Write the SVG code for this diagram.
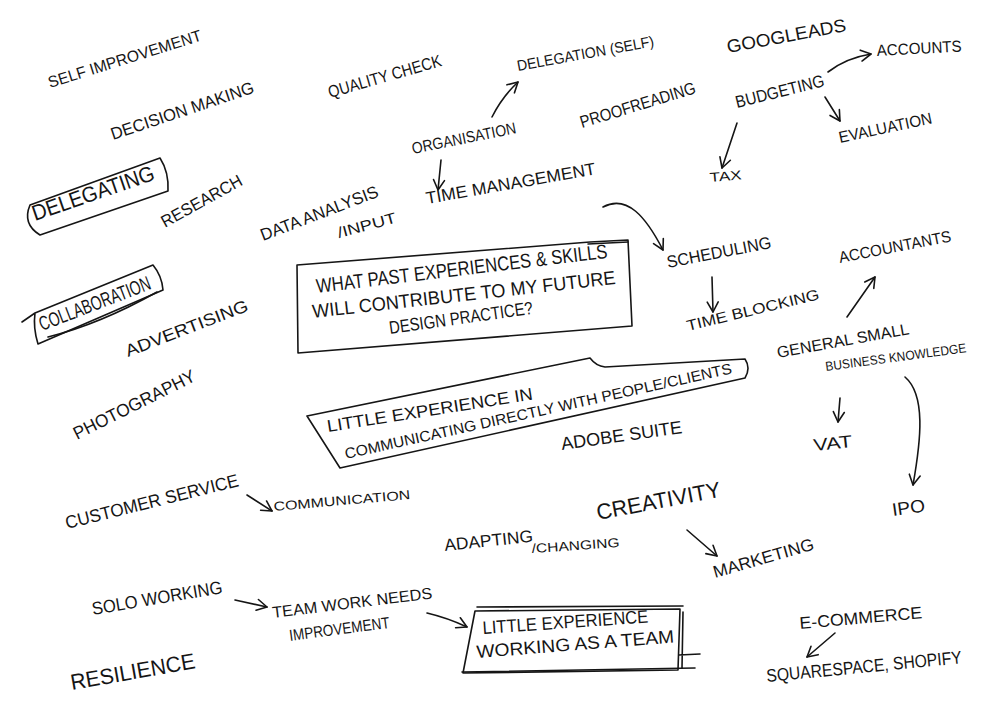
<svg xmlns="http://www.w3.org/2000/svg" width="1000" height="705" viewBox="0 0 1000 705">
<style>
text{font-family:"Liberation Sans",Arial,sans-serif;fill:#151515;}
.s{fill:none;stroke:#151515;stroke-width:1.6;stroke-linecap:round;stroke-linejoin:round;}
</style>
<defs>
<marker id="ah" viewBox="0 0 14 14" refX="12" refY="7" markerWidth="14" markerHeight="14" orient="auto" markerUnits="userSpaceOnUse">
<path d="M2,1.5 L12,7 L2,12.5" fill="none" stroke="#151515" stroke-width="1.6" stroke-linecap="round" stroke-linejoin="round"/>
</marker>
</defs>
<rect width="1000" height="705" fill="#ffffff"/>

<g id="connectors" class="s" marker-end="url(#ah)">
<path d="M492,117 Q502,97 518,82"/>
<path d="M441,160 L438,190"/>
<path d="M828,72 Q846,58 871,54"/>
<path d="M825,97 L840,121"/>
<path d="M737,123 L722,168"/>
<path d="M603,207 C627,194 646,217 663,250"/>
<path d="M712,277 L713,312"/>
<path d="M847,317 L875,277"/>
<path d="M840,398 L838,422"/>
<path d="M905,377 C926,395 921,440 913,485"/>
<path d="M247,495 L272,511"/>
<path d="M235,600 L267,607"/>
<path d="M427,613 Q448,618 467,627"/>
<path d="M687,530 L717,556"/>
<path d="M835,633 L807,657"/>
</g>

<g id="self-improvement"><text x="50" y="88" transform="rotate(-17.4 50 88)" textLength="160" lengthAdjust="spacingAndGlyphs" font-size="16">SELF IMPROVEMENT</text></g>
<g id="decision-making"><text x="113" y="140" transform="rotate(-18.5 113 140)" textLength="150" lengthAdjust="spacingAndGlyphs" font-size="17">DECISION MAKING</text></g>
<g id="delegating">
<path class="s" d="M30,205 L160,158 Q169,172 168,191 L40,235 Q22,224 30,205 Z"/>
<text x="35" y="221" transform="rotate(-19 35 221)" textLength="128" lengthAdjust="spacingAndGlyphs" font-size="22">DELEGATING</text>
</g>
<g id="research"><text x="165" y="228" transform="rotate(-29 165 228)" textLength="90" lengthAdjust="spacingAndGlyphs" font-size="17">RESEARCH</text></g>
<g id="quality-check"><text x="330" y="98" transform="rotate(-16 330 98)" textLength="117" lengthAdjust="spacingAndGlyphs" font-size="17">QUALITY CHECK</text></g>
<g id="delegation-self"><text x="518" y="71" transform="rotate(-10.3 518 71)" textLength="139" lengthAdjust="spacingAndGlyphs" font-size="15">DELEGATION (SELF)</text></g>
<g id="organisation"><text x="413" y="154" transform="rotate(-11.4 413 154)" textLength="106" lengthAdjust="spacingAndGlyphs" font-size="16">ORGANISATION</text></g>
<g id="proofreading"><text x="582" y="128" transform="rotate(-17 582 128)" textLength="120" lengthAdjust="spacingAndGlyphs" font-size="17">PROOFREADING</text></g>
<g id="googleads"><text x="728" y="53" transform="rotate(-10.5 728 53)" textLength="121" lengthAdjust="spacingAndGlyphs" font-size="18">GOOGLEADS</text></g>
<g id="accounts"><text x="877" y="56" transform="rotate(-3 877 56)" textLength="85" lengthAdjust="spacingAndGlyphs" font-size="16">ACCOUNTS</text></g>
<g id="budgeting"><text x="737" y="108" transform="rotate(-14 737 108)" textLength="91" lengthAdjust="spacingAndGlyphs" font-size="17">BUDGETING</text></g>
<g id="evaluation"><text x="840" y="143" transform="rotate(-12 840 143)" textLength="95" lengthAdjust="spacingAndGlyphs" font-size="16">EVALUATION</text></g>
<g id="tax"><text x="710" y="182" transform="rotate(-5 710 182)" textLength="32" lengthAdjust="spacingAndGlyphs" font-size="13">TAX</text></g>
<g id="data-analysis">
<text x="263" y="241" transform="rotate(-21 263 241)" textLength="125" lengthAdjust="spacingAndGlyphs" font-size="17">DATA ANALYSIS</text>
<text x="339" y="238" transform="rotate(-15 339 238)" textLength="60" lengthAdjust="spacingAndGlyphs" font-size="15">/INPUT</text>
</g>
<g id="time-management"><text x="427" y="204" transform="rotate(-10 427 204)" textLength="172" lengthAdjust="spacingAndGlyphs" font-size="17">TIME MANAGEMENT</text></g>
<g id="scheduling"><text x="668" y="268" transform="rotate(-10.9 668 268)" textLength="106" lengthAdjust="spacingAndGlyphs" font-size="17">SCHEDULING</text></g>
<g id="time-blocking"><text x="688" y="331" transform="rotate(-13.6 688 331)" textLength="136" lengthAdjust="spacingAndGlyphs" font-size="15">TIME BLOCKING</text></g>
<g id="accountants"><text x="840" y="263" transform="rotate(-11 840 263)" textLength="114" lengthAdjust="spacingAndGlyphs" font-size="16">ACCOUNTANTS</text></g>
<g id="general-small-business">
<text x="778" y="358" transform="rotate(-10.3 778 358)" textLength="134" lengthAdjust="spacingAndGlyphs" font-size="16">GENERAL SMALL</text>
<text x="826" y="371" transform="rotate(-7.6 826 371)" textLength="142" lengthAdjust="spacingAndGlyphs" font-size="13">BUSINESS KNOWLEDGE</text>
</g>
<g id="vat"><text x="814" y="451" transform="rotate(-6 814 451)" textLength="39" lengthAdjust="spacingAndGlyphs" font-size="17">VAT</text></g>
<g id="ipo"><text x="893" y="516" transform="rotate(-8 893 516)" textLength="33" lengthAdjust="spacingAndGlyphs" font-size="18">IPO</text></g>

<g id="central-question">
<path class="s" d="M297,265 L590,242 L628,240 L630,283 L632,326 L298,353 Z"/>
<path class="s" d="M588,244 L628,242"/>
<text x="317" y="293" transform="rotate(-6.9 317 293)" textLength="293" lengthAdjust="spacingAndGlyphs" font-size="20">WHAT PAST EXPERIENCES &amp; SKILLS</text>
<text x="313" y="318" transform="rotate(-6.4 313 318)" textLength="305" lengthAdjust="spacingAndGlyphs" font-size="19">WILL CONTRIBUTE TO MY FUTURE</text>
<text x="390" y="334" transform="rotate(-8 390 334)" textLength="145" lengthAdjust="spacingAndGlyphs" font-size="18">DESIGN PRACTICE?</text>
</g>

<g id="communicating">
<path class="s" d="M307,416 L590,358 Q596,366 605,367 L745,359 Q751,368 745,378 L340,468 Z"/>
<text x="328" y="432" transform="rotate(-9 328 432)" textLength="208" lengthAdjust="spacingAndGlyphs" font-size="17">LITTLE EXPERIENCE IN</text>
<text x="346" y="459" transform="rotate(-12.5 346 459)" textLength="396" lengthAdjust="spacingAndGlyphs" font-size="15">COMMUNICATING DIRECTLY WITH PEOPLE/CLIENTS</text>
</g>
<g id="adobe-suite"><text x="562" y="450" transform="rotate(-8 562 450)" textLength="122" lengthAdjust="spacingAndGlyphs" font-size="18">ADOBE SUITE</text></g>

<g id="collaboration">
<path class="s" d="M22,322 L35,313 L153,265 Q162,276 163,290 L38,344 Q33,328 35,313"/>
<text x="42" y="331" transform="rotate(-21 42 331)" textLength="118" lengthAdjust="spacingAndGlyphs" font-size="20">COLLABORATION</text>
<path class="s" d="M48,337 Q100,324 157,292"/>
</g>
<g id="advertising"><text x="128" y="357" transform="rotate(-21 128 357)" textLength="130" lengthAdjust="spacingAndGlyphs" font-size="17">ADVERTISING</text></g>
<g id="photography"><text x="77" y="440" transform="rotate(-26.5 77 440)" textLength="134" lengthAdjust="spacingAndGlyphs" font-size="18">PHOTOGRAPHY</text></g>
<g id="customer-service"><text x="67" y="529" transform="rotate(-14 67 529)" textLength="178" lengthAdjust="spacingAndGlyphs" font-size="18">CUSTOMER SERVICE</text></g>
<g id="communication"><text x="274" y="511" transform="rotate(-5 274 511)" textLength="137" lengthAdjust="spacingAndGlyphs" font-size="13">COMMUNICATION</text></g>
<g id="creativity"><text x="598" y="520" transform="rotate(-10.7 598 520)" textLength="126" lengthAdjust="spacingAndGlyphs" font-size="22">CREATIVITY</text></g>
<g id="adapting-changing">
<text x="445" y="551" transform="rotate(-6 445 551)" textLength="89" lengthAdjust="spacingAndGlyphs" font-size="17">ADAPTING</text>
<text x="532" y="553" transform="rotate(-4 532 553)" textLength="88" lengthAdjust="spacingAndGlyphs" font-size="13">/CHANGING</text>
</g>
<g id="marketing"><text x="715" y="578" transform="rotate(-16 715 578)" textLength="104" lengthAdjust="spacingAndGlyphs" font-size="17">MARKETING</text></g>
<g id="solo-working"><text x="93" y="615" transform="rotate(-9.6 93 615)" textLength="132" lengthAdjust="spacingAndGlyphs" font-size="18">SOLO WORKING</text></g>
<g id="team-work-needs">
<text x="273" y="618" transform="rotate(-7 273 618)" textLength="161" lengthAdjust="spacingAndGlyphs" font-size="16">TEAM WORK NEEDS</text>
<text x="290" y="641" transform="rotate(-7.5 290 641)" textLength="101" lengthAdjust="spacingAndGlyphs" font-size="16">IMPROVEMENT</text>
</g>
<g id="team-box">
<path class="s" d="M475,611 L680,609 L678,670 L463,673 Z"/>
<path class="s" d="M477,607 L683,606 M462,672 L695,668 M679,655 L700,654 M683,612 L682,668"/>
<text x="483" y="634" transform="rotate(-4 483 634)" textLength="166" lengthAdjust="spacingAndGlyphs" font-size="18">LITTLE EXPERIENCE</text>
<text x="477" y="658" transform="rotate(-4.5 477 658)" textLength="198" lengthAdjust="spacingAndGlyphs" font-size="18">WORKING AS A TEAM</text>
</g>
<g id="resilience"><text x="72" y="690" transform="rotate(-10 72 690)" textLength="126" lengthAdjust="spacingAndGlyphs" font-size="22">RESILIENCE</text></g>
<g id="e-commerce"><text x="800" y="629" transform="rotate(-5 800 629)" textLength="123" lengthAdjust="spacingAndGlyphs" font-size="17">E-COMMERCE</text></g>
<g id="squarespace"><text x="767" y="682" transform="rotate(-5.5 767 682)" textLength="196" lengthAdjust="spacingAndGlyphs" font-size="18">SQUARESPACE, SHOPIFY</text></g>
</svg>
